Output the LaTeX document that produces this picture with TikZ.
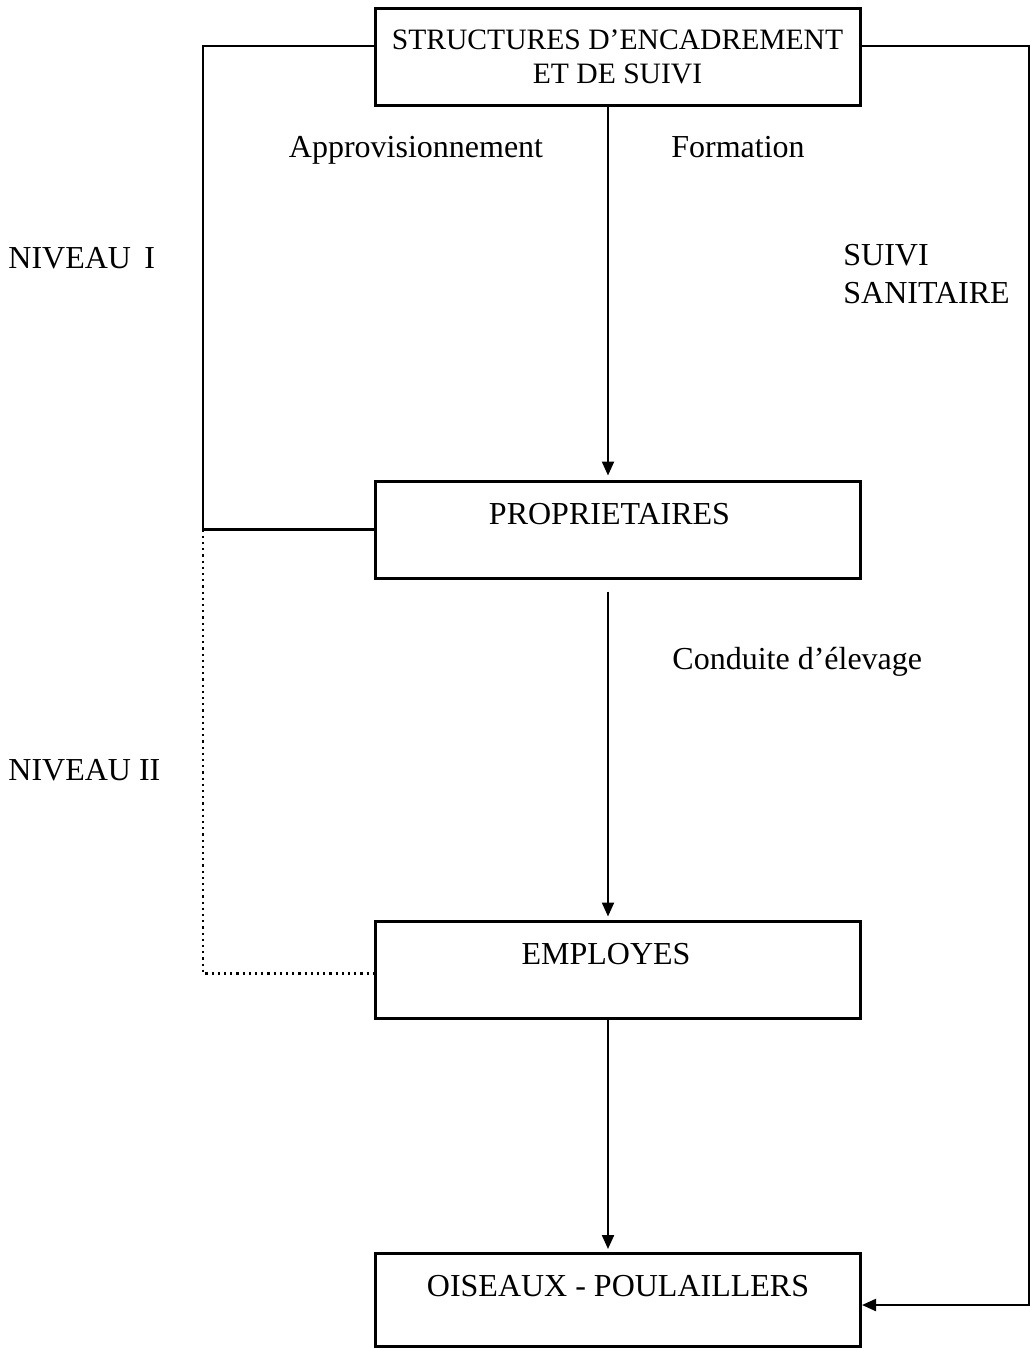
\documentclass[tikz,border=0pt]{standalone}
\usepackage{fontspec}
\setmainfont{Liberation Serif}
\usetikzlibrary{arrows.meta,positioning,calc}

\begin{document}
\begin{tikzpicture}[x=0.5pt,y=-0.5pt,
        font=\fontsize{16}{19}\selectfont,
        box/.style={rectangle, draw, line width=1.5pt, inner sep=0pt,
            minimum width=242.5pt, text height=21.5pt, text depth=27pt},
        link/.style={line width=1.1pt},
        flow/.style={line width=1.1pt, -{Triangle[length=7pt,width=6pt]}},
        lbl/.style={inner sep=0pt}]
    \useasboundingbox (0,0) rectangle (1031,1349);

    % boites
    \node[rectangle, draw, line width=1.5pt, inner sep=0pt, minimum width=242.5pt,
          minimum height=48.5pt, align=center, font=\fontsize{14.8}{17}\selectfont]
          (encad) at (617.5,56.5) {STRUCTURES D'ENCADREMENT\\ET DE SUIVI};
    \node[box] (prop) at (617.5,529.5) {PROPRIETAIRES\hspace*{8pt}};
    \node[box] (empl) at (618,969.5) {EMPLOYES\hspace*{12pt}};
    \node[box, text depth=25pt] (ois) at (618,1300) {OISEAUX - POULAILLERS};

    % textes
    \node[lbl] (appro) at (416,150) {Approvisionnement};
    \node[lbl] (form) at (738,147) {Formation};
    \node[lbl, anchor=west] (niv1) at (8,258) {NIVEAU\,\ I};
    \node[lbl, anchor=west, align=left] (suivi) at (843,274) {SUIVI\\SANITAIRE};
    \node[lbl, anchor=west] (cond) at (672,662) {Conduite d'élevage};
    \node[lbl, anchor=west] (niv2) at (8,770) {NIVEAU II};

    % liaisons
    \coordinate (hg) at (203,46);
    \coordinate (hd) at (1029,46);
    \draw[link] (encad.west |- hg) -- (hg) |- (prop.west);
    \draw[link, dotted] (hg |- prop.west) |- ($(empl.west)+(0,4)$);
    \draw[flow] (encad.east |- hd) -- (hd) |- ($(ois.east)+(0,5)$);

    \draw[flow, shorten >=2pt] (encad.south -| 608,0) -- (prop.north -| 608,0);
    \draw[flow, shorten <=6pt, shorten >=1.5pt] (prop.south -| 608,0) -- (empl.north -| 608,0);
    \draw[flow, shorten >=1.5pt] (empl.south -| 608,0) -- (ois.north -| 608,0);
\end{tikzpicture}
\end{document}
